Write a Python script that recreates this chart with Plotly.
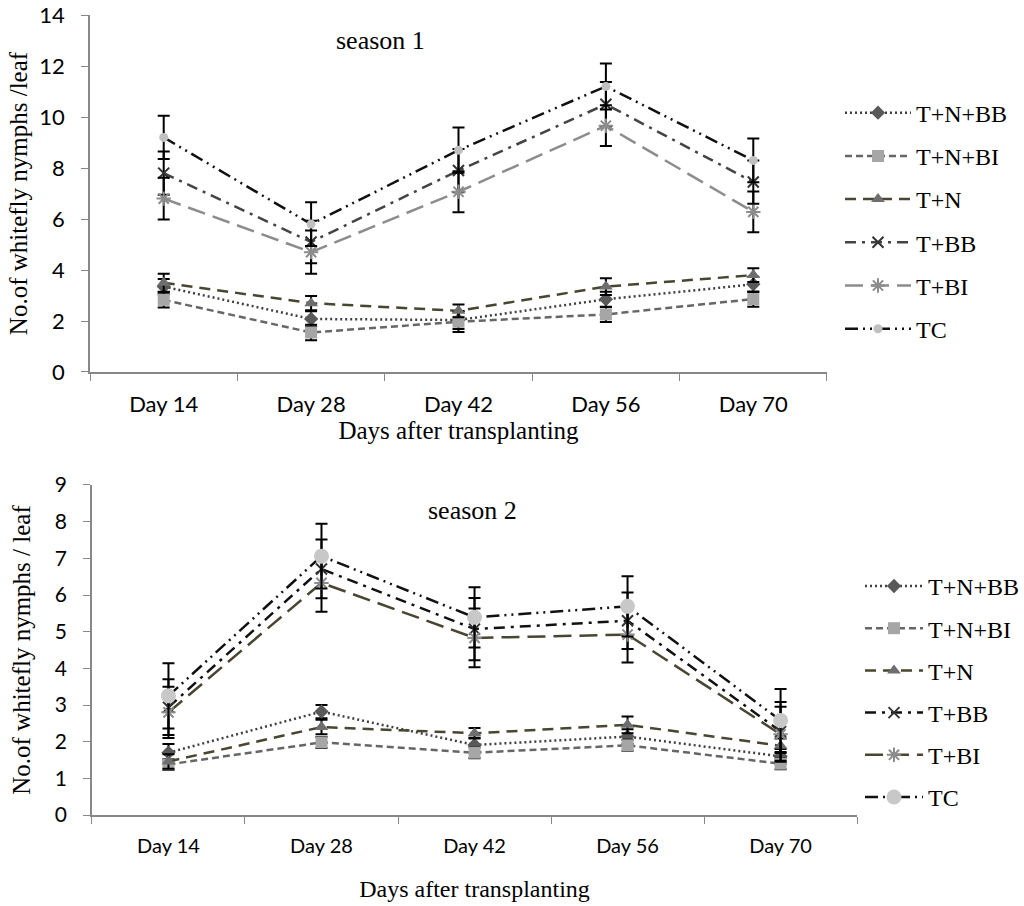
import plotly.graph_objects as go

days = ["Day 14", "Day 28", "Day 42", "Day 56", "Day 70"]
series = ["T+N+BB", "T+N+BI", "T+N", "T+BB", "T+BI", "TC"]

# Season 1 values
s1_tnbb = [3.35, 2.08, 2.04, 2.85, 3.44]
s1_tnbi = [2.83, 1.55, 1.97, 2.26, 2.86]
s1_tn = [3.5, 2.7, 2.4, 3.35, 3.8]
s1_tbb = [7.8, 5.1, 7.9, 10.5, 7.45]
s1_tbi = [6.8, 4.7, 7.07, 9.66, 6.28]
s1_tc = [9.2, 5.8, 8.7, 11.2, 8.3]
s1_err_tnbb = [0.3, 0.3, 0.35, 0.3, 0.3]
s1_err_tnbi = [0.3, 0.3, 0.4, 0.3, 0.3]
s1_err_tn = [0.35, 0.28, 0.25, 0.33, 0.27]
s1_err_tbb = [0.85, 0.83, 0.85, 0.87, 0.85]
s1_err_tbi = [0.82, 0.85, 0.8, 0.8, 0.8]
s1_err_tc = [0.85, 0.86, 0.89, 0.9, 0.86]

# Season 2 values
s2_tnbb = [1.7, 2.82, 1.91, 2.14, 1.6]
s2_tnbi = [1.38, 1.98, 1.7, 1.9, 1.4]
s2_tn = [1.46, 2.4, 2.23, 2.46, 1.89]
s2_tbb = [2.94, 6.71, 5.07, 5.3, 2.28]
s2_tbi = [2.8, 6.33, 4.83, 4.92, 2.2]
s2_tc = [3.25, 7.06, 5.39, 5.69, 2.58]
s2_err_tnbb = [0.24, 0.18, 0.2, 0.2, 0.2]
s2_err_tnbi = [0.15, 0.15, 0.15, 0.15, 0.15]
s2_err_tn = [0.2, 0.2, 0.14, 0.23, 0.2]
s2_err_tbb = [0.76, 0.8, 0.85, 0.77, 0.8]
s2_err_tbi = [0.7, 0.79, 0.8, 0.76, 0.75]
s2_err_tc = [0.89, 0.88, 0.82, 0.82, 0.86]

s1_vals = [s1_tnbb, s1_tnbi, s1_tn, s1_tbb, s1_tbi, s1_tc]
s1_errs = [s1_err_tnbb, s1_err_tnbi, s1_err_tn, s1_err_tbb, s1_err_tbi, s1_err_tc]
s2_vals = [s2_tnbb, s2_tnbi, s2_tn, s2_tbb, s2_tbi, s2_tc]
s2_errs = [s2_err_tnbb, s2_err_tnbi, s2_err_tn, s2_err_tbb, s2_err_tbi, s2_err_tc]

styles1 = [
    dict(lc="#404040", dash="2px,3px", sym="diamond", mc="#595959", ms=11),
    dict(lc="#666666", dash="7px,4px", sym="square", mc="#a6a6a6", ms=12),
    dict(lc="#4a4530", dash="11px,7px", sym="triangle-up", mc="#6e6e6e", ms=12),
    dict(lc="#444444", dash="11px,6px,3px,6px", sym="x-thin-open", mc="#333333", ms=11),
    dict(lc="#8c8c8c", dash="18px,8px", sym="asterisk-open", mc="#8c8c8c", ms=12),
    dict(lc="#111111", dash="13px,5px,2px,5px,2px,5px", sym="circle", mc="#c0c0c0", ms=9),
]
styles2 = [
    dict(lc="#404040", dash="2px,3px", sym="diamond", mc="#595959", ms=11),
    dict(lc="#666666", dash="7px,4px", sym="square", mc="#a6a6a6", ms=12),
    dict(lc="#4a4530", dash="11px,7px", sym="triangle-up", mc="#6e6e6e", ms=12),
    dict(lc="#111111", dash="11px,6px,3px,6px", sym="x-thin-open", mc="#333333", ms=11),
    dict(lc="#4a4530", dash="18px,8px", sym="asterisk-open", mc="#8c8c8c", ms=12),
    dict(lc="#111111", dash="13px,5px,2px,5px,2px,5px", sym="circle", mc="#c8c8c8", ms=15),
]

serif = "Liberation Serif"
sans = "Lato"

fig = go.Figure()

def add(vals, errs, styles, xa, ya, leg):
    for name, v, e, st in zip(series, vals, errs, styles):
        open_sym = st["sym"].endswith("open")
        fig.add_trace(go.Scatter(
            x=days, y=v, name=name, mode="lines+markers",
            xaxis=xa, yaxis=ya, legend=leg, legendgroup=leg + name,
            line=dict(color=st["lc"], width=2.5, dash=st["dash"]),
            marker=dict(symbol=st["sym"], size=st["ms"], color=st["mc"],
                        line=dict(width=2 if open_sym else 0, color=st["mc"])),
            error_y=dict(type="data", array=e, visible=True, color="black", thickness=2, width=6),
        ))

add(s1_vals, s1_errs, styles1, "x", "y", "legend")
add(s2_vals, s2_errs, styles2, "x2", "y2", "legend2")

axis_common = dict(showline=True, linecolor="#888888", linewidth=1.5, ticks="outside",
                   tickcolor="#888888", ticklen=7, showgrid=False, zeroline=False, automargin=False)

fig.update_layout(
    width=1024, height=906, margin=dict(l=0, r=0, t=0, b=0, autoexpand=False),
    plot_bgcolor="white", paper_bgcolor="white",
    font=dict(family=serif, size=24, color="black"),
    xaxis=dict(domain=[0.0879, 0.8076], anchor="y", type="category", range=[-0.5, 4.5],
               tickson="boundaries", tickfont=dict(family=sans, size=22, color="black"),
               ticklabelstandoff=12,
               title=dict(text="Days after transplanting", font=dict(family=serif, size=25, color="black"), standoff=4),
               **axis_common),
    yaxis=dict(domain=[0.5894, 0.9834], anchor="x", range=[0, 14], dtick=2,
               tickfont=dict(family=sans, size=22, color="black"), ticklabelstandoff=12,
               title=dict(text="No.of whitefly nymphs /leaf", font=dict(family=serif, size=25, color="black"), standoff=5),
               **axis_common),
    xaxis2=dict(domain=[0.0898, 0.837], anchor="y2", type="category", range=[-0.5, 4.5],
                tickson="boundaries", tickfont=dict(family=sans, size=20, color="black"),
                ticklabelstandoff=12,
                title=dict(text="Days after transplanting", font=dict(family=serif, size=24, color="black"), standoff=24),
                **axis_common),
    yaxis2=dict(domain=[0.1004, 0.4647], anchor="x2", range=[0, 9], dtick=1,
                tickfont=dict(family=sans, size=21, color="black"), ticklabelstandoff=12,
                title=dict(text="No.of whitefly nymphs / leaf", font=dict(family=serif, size=25, color="black"), standoff=17),
                **axis_common),
    legend=dict(x=840 / 1024, y=0.9, xanchor="left", yanchor="top", tracegroupgap=9,
                font=dict(family=serif, size=24, color="black"), bgcolor="rgba(0,0,0,0)", itemwidth=66),
    legend2=dict(x=860 / 1024, y=0.3776, xanchor="left", yanchor="top", tracegroupgap=8,
                 font=dict(family=serif, size=24, color="black"), bgcolor="rgba(0,0,0,0)", itemwidth=58),
    annotations=[
        dict(text="season 1", x=380 / 1024, y=1 - 40 / 906, xref="paper", yref="paper",
             xanchor="center", yanchor="middle",
             showarrow=False, font=dict(family=serif, size=26, color="black")),
        dict(text="season 2", x=472 / 1024, y=1 - 510 / 906, xref="paper", yref="paper",
             xanchor="center", yanchor="middle",
             showarrow=False, font=dict(family=serif, size=26, color="black")),
    ],
)

fig.write_html("out.html", config={"displayModeBar": False},
               post_script="document.body.style.margin='0';document.body.style.overflow='hidden';")
